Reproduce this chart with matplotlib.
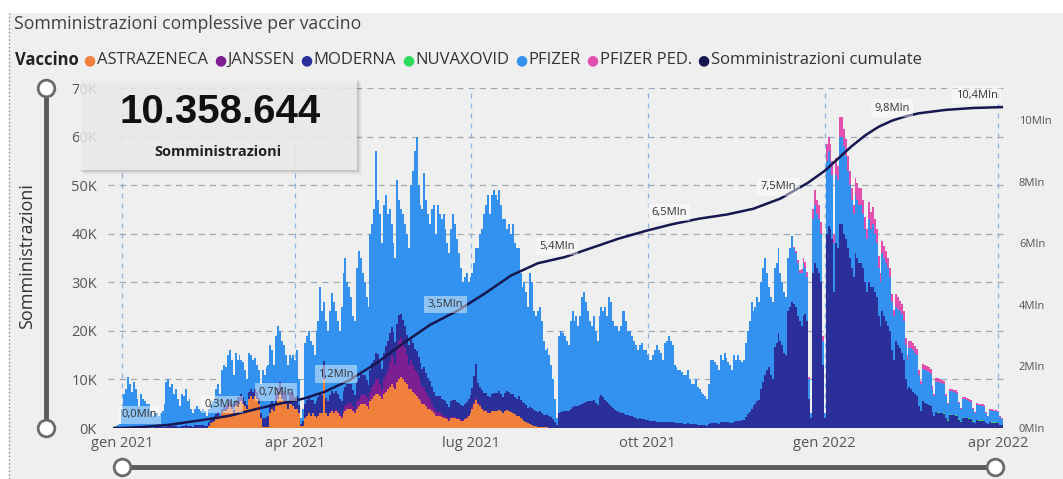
import matplotlib
matplotlib.use("Agg")
import matplotlib.pyplot as plt
import matplotlib.dates as mdates
from matplotlib.patches import Rectangle
from matplotlib.lines import Line2D
import numpy as np
import pandas as pd

plt.rcParams['font.family'] = ['Open Sans', 'DejaVu Sans']

# Somministrazioni giornaliere in migliaia, una riga = una settimana (lun-dom)
pfizer_inizio = "2020-12-28"
pfizer = [
    0.3, 0.5, 0.6, 0.8, 4, 7, 8,
    10.5, 9, 7.5, 9.5, 8, 6, 4.5,
    7, 6, 5.5, 5, 5, 3.5, 2.5,
    2.8, 2.8, 2.2, 2.7, 3.2, 4.8, 9.2,
    9.6, 8.1, 8.5, 6.6, 7.5, 5.7, 4.3,
    6.5, 6, 7.4, 5, 5.5, 3.6, 2.7,
    3.4, 3.8, 3.4, 2.9, 3.3, 3, 2.1,
    2.8, 3.2, 3.5, 3.6, 5.1, 5.8, 4.5,
    8, 8.5, 7.9, 9.9, 10.3, 9.1, 7.3,
    9.8, 7.7, 8.7, 7.1, 7.2, 6.5, 5.2,
    8.1, 7, 6.5, 6.4, 5.5, 5.8, 6,
    9.9, 8.9, 10.3, 10.6, 12, 10.4, 8.2,
    11.8, 12.7, 10.6, 9.7, 9.3, 8.2, 7.5,
    7.6, 7, 8, 7.6, 9.5, 5.2, 1.1,
    2.5, 12.5, 13.3, 13.5, 12.2, 11.2, 10,
    14.5, 15.7, 22, 17.2, 12.3, 15.8, 14.5,
    17.3, 20.2, 18.7, 16.4, 14.9, 14, 19.4,
    24.4, 26.5, 21, 19.9, 18, 15.2, 15.2,
    23.5, 26.3, 23.9, 21, 19, 17.1, 16.2,
    28, 28.7, 31, 41.5, 31.8, 30.4, 25.8,
    30.5, 31.2, 26, 25.5, 21.2, 18.3, 17.2,
    29.5, 23.8, 21.5, 21.7, 20.9, 20.8, 20,
    31.5, 35.5, 40.8, 44.2, 35.3, 32.7, 32.9,
    40, 35.7, 33.8, 32.4, 36.5, 38.6, 33.5,
    39.5, 37.5, 37, 38.3, 35.5, 33, 31.6,
    35.4, 38.2, 36.3, 33.7, 30.8, 28.3, 25.5,
    26, 26.6, 24, 24.3, 23.7, 23.2, 23.9,
    27.8, 31.5, 33.2, 36.7, 38.8, 41.5, 37.7,
    41, 41.8, 40.7, 39.7, 41.4, 38.9, 36.7,
    35.7, 33.3, 34.5, 32.9, 35.1, 31.6, 31.1,
    30.5, 26.2, 23.6, 24.8, 23.3, 20.8, 27.7,
    25.8, 20.3, 19.6, 20.7, 21.6, 19, 15.3,
    13.3, 13.7, 12.5, 10.7, 8.1, 4.7, 1.5,
    16, 16.7, 16.1, 15.5, 14.4, 13.6, 18,
    19.7, 17.5, 18.4, 16.4, 18.2, 22, 22.8,
    20.7, 18.5, 16.4, 15.5, 17.2, 14.8, 13.2,
    16.6, 18.2, 17.7, 19.2, 17.6, 22, 21.4,
    17.8, 17.2, 17.5, 16.7, 17.9, 21, 21.2,
    19.3, 17.4, 17.5, 16.6, 15.7, 14.9, 14.1,
    15, 15.6, 14.2, 14.3, 13.4, 12.5, 12.6,
    13.6, 14.6, 15.7, 14.7, 14.2, 12.8, 16.2,
    16.7, 17.7, 16.8, 15.8, 11.9, 11.5, 11,
    11, 10.5, 10.1, 10.1, 11, 9.2, 8.2,
    8.2, 9.2, 7.8, 7.3, 6.8, 6.4, 5.9,
    5.5, 8.2, 13, 12.9, 12.4, 12, 11.1,
    13.8, 12.8, 14.2, 13.2, 12.3, 11.9, 11,
    13.7, 12.6, 13.5, 12.5, 11.9, 12.3, 15.3,
    17.2, 18.7, 22, 19.5, 20, 21.5, 20.2,
    22, 23.5, 24, 20, 16.4, 16, 16,
    16.3, 16.5, 17.4, 14, 13, 12.5, 12,
    11, 12, 13.5, 11.5, 11, 11, 10,
    11, 11, 9.5, 9, 4, 1, 11,
    12, 11, 11, 10, 5, 1, 15,
    15.5, 14, 13, 10, 14, 14, 18,
    18, 18, 17, 16, 15, 14, 13,
    12, 12, 12, 12, 11, 11, 11,
    13, 12, 13, 12, 11, 10, 9,
    12, 12, 12, 12, 11, 10, 9,
    7, 7.5, 7.5, 8, 8, 7, 6,
    8, 8.5, 8.5, 8.5, 8.5, 6.5, 5.5,
    6.7, 6.8, 6.8, 6.7, 6.7, 4.8, 4,
    6.3, 6.3, 6.2, 6.1, 6, 4.4, 3.4,
    4.7, 4.8, 4.7, 4.7, 4.6, 3.3, 2.6,
    3.8, 3.8, 3.7, 3.6, 3.5, 2.6, 2,
    3.1, 3.1, 3, 3, 2.9, 2.1, 1.6,
    2.4, 2.4, 2.3, 2.3, 2.2, 1.6, 1.3,
]

moderna_inizio = "2021-01-18"
moderna = [
    0.2, 0.2, 0.3, 0.3, 0.3, 0.2, 0.3,
    0.4, 0.4, 0.5, 0.4, 0.5, 0.3, 0.2,
    0.5, 0.5, 0.6, 0.5, 0.5, 0.4, 0.3,
    0.6, 0.7, 0.6, 0.6, 0.7, 0.5, 0.4,
    0.7, 0.8, 0.8, 0.9, 0.9, 0.7, 0.5,
    1, 1, 1.1, 1.1, 1.2, 0.9, 0.7,
    1.2, 1.3, 1.3, 1.4, 1.3, 1, 0.8,
    1.4, 1.5, 1.5, 1.6, 1.5, 1.2, 1,
    1.8, 1.9, 2, 2.1, 2, 1.6, 1.3,
    2.2, 2.3, 2.4, 2.3, 2.2, 1.8, 1.5,
    2.4, 2.5, 2.5, 2.4, 2.5, 1.8, 0.4,
    1, 3, 3.2, 3.5, 3.3, 2.8, 2.5,
    3.5, 3.8, 4, 3.8, 3.7, 3.2, 3,
    3.5, 3.8, 3.8, 3.6, 3.5, 3, 3.2,
    3.8, 4, 4, 3.9, 3.8, 3.3, 3,
    4, 4.2, 4.3, 4.2, 4, 3.6, 3.3,
    4.5, 4.8, 5, 5.5, 5.2, 4.6, 4.2,
    5.5, 5.8, 6, 6, 5.8, 5.2, 4.8,
    5, 5.2, 5, 4.8, 4.6, 4.2, 4,
    4.5, 4.5, 4.2, 4.3, 4.2, 3.8, 3.6,
    4, 3.8, 3.7, 3.6, 3.5, 3.2, 3,
    3.2, 3.3, 3.2, 3.2, 3, 2.8, 2.6,
    3.3, 3.5, 3.4, 3.3, 3.2, 3, 2.8,
    3, 3.2, 3.3, 3.5, 4, 5.5, 7,
    4, 3.8, 3.6, 3.6, 3.5, 3.3, 3.2,
    3.5, 3.7, 3.8, 3.8, 3.9, 3.6, 3.3,
    3.8, 4, 4, 3.9, 3.9, 3.6, 3.4,
    4, 3.8, 3.6, 3.7, 3.5, 3.2, 3.5,
    3.5, 3.2, 3, 3, 3.1, 2.8, 2.5,
    2.5, 2.6, 2.4, 2.2, 1.8, 1.2, 0.5,
    3, 3.3, 3.4, 3.5, 3.6, 3.4, 4,
    4.3, 4.5, 4.6, 4.6, 4.8, 5, 5.2,
    5.3, 5.5, 5.6, 5.5, 5.8, 5.2, 4.8,
    6.4, 6.8, 6.3, 5.8, 5.4, 5, 4.6,
    4.2, 3.8, 3.5, 3.3, 3.1, 3, 2.8,
    2.7, 2.6, 2.5, 2.4, 2.3, 2.1, 1.9,
    2, 1.9, 1.8, 1.7, 1.6, 1.5, 1.4,
    1.4, 1.4, 1.3, 1.3, 1.3, 1.2, 1.3,
    1.3, 1.3, 1.2, 1.2, 1.1, 1, 1,
    1, 1, 0.9, 0.9, 1, 0.8, 0.8,
    0.8, 0.8, 0.7, 0.7, 0.7, 0.6, 0.6,
    0.5, 0.8, 1, 1.1, 1.1, 1, 0.9,
    1.2, 1.2, 1.3, 1.3, 1.2, 1.1, 1,
    1.3, 1.4, 1.5, 1.5, 1.6, 1.7, 2.2,
    2.8, 3.3, 4, 4.5, 5, 5.5, 5.8,
    8, 9.5, 11, 12, 12.6, 11, 10,
    16.7, 17.5, 19.6, 18, 17, 15.5, 15,
    24, 25, 26, 25.5, 25, 23, 22,
    21, 23, 23.5, 22, 6, 2, 32,
    34, 33, 32, 30, 13, 2, 40,
    41.5, 41, 39, 28, 38, 37, 42,
    42, 40, 39, 37, 35, 33, 31,
    36, 35, 34, 34, 33, 30, 28,
    30, 29, 29, 28, 27, 23, 21,
    24, 23, 22, 21, 20, 16, 14,
    18, 17, 16.5, 15.5, 14, 10, 8,
    8.5, 8, 7.5, 7, 6.5, 4.5, 3.5,
    5.5, 5.2, 5, 4.8, 4.5, 3.2, 2.5,
    3.2, 3.1, 3, 3, 2.9, 2, 1.5,
    2.7, 2.6, 2.6, 2.5, 2.4, 1.7, 1.3,
    2.1, 2, 2, 1.9, 1.8, 1.3, 1,
    1.6, 1.5, 1.5, 1.5, 1.4, 1, 0.8,
    1.2, 1.1, 1.1, 1.1, 1, 0.7, 0.6,
]

astrazeneca_inizio = "2021-02-15"
astrazeneca = [
    0.5, 1, 1.2, 1.5, 2, 2.5, 2,
    3, 3.5, 3.5, 4, 4.5, 4, 3,
    4.5, 5, 5, 5.5, 5, 4.5, 4,
    6, 6.5, 6, 6.5, 6, 5, 2,
    0.3, 0.2, 0.2, 0.3, 3, 4, 3.5,
    5, 6, 7, 6, 5.5, 5, 4,
    5, 5, 4.5, 4, 4, 3, 0.5,
    0.5, 2, 2.5, 3, 2.5, 3, 2.5,
    2, 2.5, 3, 3, 10, 3, 2.5,
    3, 3.5, 3, 3.5, 3, 2.5, 2,
    3, 3.5, 4, 4, 4, 3.5, 3,
    4, 4.5, 5, 5, 5, 4.5, 4,
    5.5, 6, 6.5, 7, 7, 6.5, 6,
    7, 7.5, 8, 8.5, 9, 8.5, 8,
    9.5, 10, 10.5, 10, 9.5, 9, 8,
    8, 7.5, 7, 6.5, 6, 5.5, 5,
    5, 4.5, 4, 4, 3.5, 3, 2.5,
    2.5, 2.5, 2.2, 2, 2, 1.8, 1.5,
    2, 2, 2, 1.8, 1.8, 1.5, 1.5,
    1.8, 2, 2.5, 3, 4, 5, 5.8,
    5, 4.5, 4, 3.5, 3.5, 3, 3,
    3.5, 3.5, 3.5, 3.5, 3.7, 3.5, 3,
    3.5, 3.7, 3.5, 3.2, 3, 2.8, 2.5,
    2.5, 2, 1.8, 1.5, 1.2, 1, 0.8,
    0.7, 0.5, 0.4, 0.3, 0.3, 0.2, 0.2,
    0.2, 0.2, 0.1, 0.1, 0.1, 0.1, 0.05,
]

janssen_inizio = "2021-04-19"
janssen = [
    0.2, 0.3, 0.5, 0.5, 0.6, 0.5, 0.4,
    0.8, 1, 1, 1.2, 1.2, 1, 0.8,
    1.5, 1.5, 1.8, 1.8, 2, 1.8, 1.5,
    2, 2.5, 2.5, 3, 3, 2.5, 2,
    3, 3.5, 4, 5, 6, 6, 5,
    7, 8, 8, 7.5, 7, 6, 5,
    6, 5.5, 5, 5, 4.5, 4, 3.5,
    3.5, 3, 2.5, 2, 1.5, 1.2, 1,
    0.8, 0.7, 0.6, 0.5, 0.5, 0.4, 0.3,
    0.3, 0.3, 0.3, 0.2, 0.2, 0.2, 0.2,
    0.2, 0.2, 0.2, 0.2, 0.3, 0.3, 0.3,
    0.2, 0.2, 0.2, 0.2, 0.2, 0.2, 0.1,
]

nuvaxovid_inizio = "2022-02-28"
nuvaxovid = [
    0.05, 0.1, 0.15, 0.15, 0.2, 0.1, 0.05,
    0.15, 0.15, 0.1, 0.1, 0.1, 0.1, 0.05,
    0.1, 0.1, 0.1, 0.1, 0.1, 0.05, 0.05,
    0.1, 0.1, 0.1, 0.1, 0.1, 0.05, 0.05,
    0.05, 0.05, 0.05, 0.05, 0.05, 0.02, 0.02,
]

pfizer_ped_inizio = "2021-12-13"
pfizer_ped = [
    0, 0, 0, 0.3, 0.5, 0.6, 0.5,
    0.8, 1, 1.2, 1.2, 0.4, 0.1, 2,
    3, 3, 3, 2.5, 1, 0.1, 3.5,
    3, 3.5, 3, 2, 3.5, 3, 4,
    4, 3.5, 3.5, 3, 3, 2.5, 2,
    3.5, 3.5, 3.5, 3.5, 3, 2.5, 2,
    3.5, 3.5, 3.5, 3, 3, 2.5, 2,
    2.5, 2.5, 2.5, 2, 2, 1.5, 1.2,
    2.5, 2.5, 2.2, 2, 2, 1.5, 1,
    1.5, 1.5, 1.4, 1.3, 1.3, 1, 0.7,
    1, 1, 1, 1, 0.9, 0.7, 0.5,
    0.7, 0.7, 0.7, 0.6, 0.6, 0.4, 0.3,
    0.5, 0.5, 0.5, 0.5, 0.4, 0.3, 0.2,
    0.4, 0.4, 0.4, 0.4, 0.3, 0.2, 0.2,
    0.3, 0.3, 0.3, 0.3, 0.3, 0.2, 0.1,
    0.3, 0.3, 0.2, 0.2, 0.2, 0.1, 0.1,
]

# Somministrazioni cumulate (milioni)
cumulate_date = [
    "2020-12-28", "2021-01-01", "2021-01-11", "2021-01-25", "2021-02-14",
    "2021-02-26", "2021-03-12", "2021-03-26", "2021-04-05", "2021-04-16",
    "2021-04-29", "2021-05-13", "2021-05-27", "2021-06-10", "2021-06-24",
    "2021-07-08", "2021-07-22", "2021-08-05", "2021-08-19", "2021-09-02",
    "2021-09-16", "2021-09-30", "2021-10-14", "2021-10-28", "2021-11-11",
    "2021-11-25", "2021-12-09", "2021-12-23", "2022-01-01", "2022-01-08",
    "2022-01-15", "2022-01-22", "2022-01-29", "2022-02-05", "2022-02-12",
    "2022-02-19", "2022-03-05", "2022-03-19", "2022-04-03",
]
cumulate_mln = [
    0.0, 0.0, 0.03, 0.1, 0.28,
    0.4, 0.62, 0.82, 0.95, 1.17,
    1.55, 2.1, 2.75, 3.35, 3.8,
    4.35, 4.95, 5.35, 5.55, 5.85,
    6.15, 6.4, 6.62, 6.8, 6.93,
    7.12, 7.45, 7.95, 8.35, 8.75,
    9.15, 9.5, 9.78, 9.98, 10.12,
    10.22, 10.33, 10.39, 10.42,
]

etichette_date = ["2021-01-10", "2021-02-22", "2021-03-22", "2021-04-22", "2021-06-18",
                  "2021-08-15", "2021-10-12", "2021-12-08", "2022-02-05", "2022-03-21"]
etichette_testo = ["0,0Mln", "0,3Mln", "0,7Mln", "1,2Mln", "3,5Mln",
                   "5,4Mln", "6,5Mln", "7,5Mln", "9,8Mln", "10,4Mln"]

totale = "10.358.644"

# ---------------------------------------------------------------
W, H = 1063, 479


def fx(x):
    return x / W


def fy(y):
    return 1 - y / H


fig = plt.figure(figsize=(W / 100, H / 100), dpi=100)
fig.patch.set_facecolor("white")
fig.add_artist(Rectangle((fx(9), 0), 1, fy(13), facecolor="#efefef", edgecolor="none", zorder=-5))
fig.add_artist(Line2D([fx(9), fx(9)], [0, fy(13)], color="#777777", lw=0.9, linestyle=(0, (1, 2))))

fig.text(fx(14), fy(24), "Somministrazioni complessive per vaccino", fontsize=12.7, color="#404040", va="center")

ax = fig.add_axes([fx(108), fy(428), fx(1005) - fx(108), fy(88) - fy(428)])
ax.set_facecolor("none")

giorni = pd.date_range(pfizer_inizio, periods=len(pfizer), freq="D")


def serie(valori, inizio):
    s = pd.Series(valori, index=pd.date_range(inizio, periods=len(valori), freq="D"))
    return s.reindex(giorni, fill_value=0).to_numpy(dtype=float)


vaccini = [
    ("ASTRAZENECA", serie(astrazeneca, astrazeneca_inizio), "#F0803C"),
    ("JANSSEN", serie(janssen, janssen_inizio), "#7D1F93"),
    ("MODERNA", serie(moderna, moderna_inizio), "#2A2F9A"),
    ("NUVAXOVID", serie(nuvaxovid, nuvaxovid_inizio), "#2EDB5C"),
    ("PFIZER", serie(pfizer, pfizer_inizio), "#3392F0"),
    ("PFIZER PED.", serie(pfizer_ped, pfizer_ped_inizio), "#E34FAE"),
]

base = np.zeros(len(giorni))
for nome, valori, colore in vaccini:
    ax.bar(giorni, valori, width=1.0, bottom=base, color=colore, linewidth=0)
    base += valori

ax.set_xlim(pd.Timestamp("2020-12-24 16:00"), pd.Timestamp("2022-04-04 16:00"))
ax.set_ylim(0, 70)
ax.set_yticks(range(0, 71, 10))
ax.set_yticklabels([f"{v}K" for v in range(0, 71, 10)])
mesi = pd.to_datetime(["2021-01-01", "2021-04-01", "2021-07-01", "2021-10-01", "2022-01-01", "2022-04-01"])
ax.set_xticks(mesi)
ax.set_xticklabels(["gen 2021", "apr 2021", "lug 2021", "ott 2021", "gen 2022", "apr 2022"])
ax.grid(axis="y", color="#9ea8b4", linestyle=(0, (5, 4)), linewidth=0.9)
ax.grid(axis="x", color="#8ab4e0", linestyle=(0, (4, 4)), linewidth=0.9)
ax.set_axisbelow(True)
for s in ax.spines.values():
    s.set_visible(False)
ax.tick_params(length=0, labelsize=10.5, colors="#555555")
ax.tick_params(axis="x", pad=6)
ax.tick_params(axis="y", pad=8)

fig.text(fx(27), fy(256), "Somministrazioni", rotation=90, ha="center", va="center", fontsize=13, color="#333333")

ax2 = ax.twinx()
date_cum = mdates.date2num(pd.to_datetime(cumulate_date))
ax2.plot(date_cum, cumulate_mln, color="#161650", lw=1.8)
ax2.set_ylim(0, 11.04)
ax2.set_yticks(range(0, 11, 2))
ax2.set_yticklabels([f"{v}Mln" for v in range(0, 11, 2)])
ax2.tick_params(length=0, labelsize=8, colors="#555555", pad=10)
for s in ax2.spines.values():
    s.set_visible(False)

for d, t in zip(etichette_date, etichette_testo):
    dn = mdates.date2num(pd.Timestamp(d))
    y = np.interp(dn, date_cum, cumulate_mln)
    ax2.annotate(t, (dn, y), xytext=(0, 9), textcoords="offset points", ha="center", va="center",
                 fontsize=8, color="#333333",
                 bbox=dict(boxstyle="square,pad=0.3", fc="white", ec="none", alpha=0.45))

# riquadro con il totale
for i, a in enumerate([0.05, 0.05, 0.04, 0.03, 0.02]):
    o = i + 1
    fig.add_artist(Rectangle((fx(79 + o), fy(170 + o)), fx(357) - fx(79), fy(78) - fy(170),
                             facecolor="black", alpha=a, edgecolor="none", zorder=4))
fig.add_artist(Rectangle((fx(79), fy(170)), fx(357) - fx(79), fy(78) - fy(170),
                         facecolor="#f4f4f4", alpha=0.8, edgecolor="none", zorder=5))
fig.text(fx(220), fy(112), totale, fontsize=29, fontweight="bold", family="Liberation Sans",
         ha="center", va="center", color="#111111", zorder=6)
fig.text(fx(218), fy(152), "Somministrazioni", fontsize=10.5, fontweight="bold",
         ha="center", va="center", color="#222222", zorder=6)

# slider
fig.add_artist(Line2D([fx(46), fx(46)], [fy(88), fy(428)], color="#5a5a5a", lw=3.5, zorder=3))
fig.add_artist(Line2D([fx(122), fx(995)], [fy(467), fy(467)], color="#5a5a5a", lw=3.5, zorder=3))
for px, py in [(46, 88), (46, 428), (122, 467), (995, 467)]:
    fig.add_artist(Line2D([fx(px)], [fy(py)], marker="o", markersize=12, markerfacecolor="white",
                          markeredgecolor="#6a6a6a", markeredgewidth=2, zorder=4))

# legenda
fig.canvas.draw()
renderer = fig.canvas.get_renderer()
x = 15
t = fig.text(fx(x), fy(60), "Vaccino", fontsize=12, fontweight="bold", color="#222222", va="center")
x += t.get_window_extent(renderer).width + 5
voci = [(n, c) for n, _, c in vaccini] + [("Somministrazioni cumulate", "#161650")]
for nome, colore in voci:
    p = fig.text(fx(x), fy(60), "●", fontsize=10, color=colore, va="center", family="DejaVu Sans")
    x += p.get_window_extent(renderer).width + 1
    t = fig.text(fx(x), fy(60), nome, fontsize=12, color="#333333", va="center")
    x += t.get_window_extent(renderer).width + 6

fig.savefig("out.png", dpi=100, facecolor=fig.get_facecolor())
